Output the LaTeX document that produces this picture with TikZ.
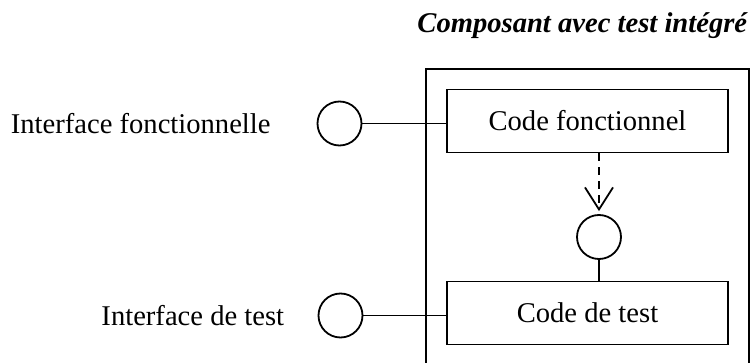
\documentclass[tikz,border=0pt]{standalone}
\usepackage{fontspec}
\setmainfont{Liberation Serif}
\usetikzlibrary{arrows.meta}
\begin{document}
\begin{tikzpicture}[x=0.5pt,y=-0.5pt,line width=0.9pt,
  every node/.style={font=\fontsize{14.3}{17}\selectfont},
  box/.style={draw,rectangle,minimum width=140.5pt,minimum height=31.5pt,inner sep=0pt},
  iface/.style={draw,circle,minimum size=22pt,inner sep=0pt},
  lbl/.style={inner sep=0pt}]
\useasboundingbox (0,0) rectangle (756,363);
\clip (0,0) rectangle (756,363);
\node[lbl,font=\fontsize{14.3}{17}\selectfont\bfseries\itshape,anchor=east] (title) at (748,26) {Composant avec test intégré};
\draw (426,400) -- (426,69) -- (749,69) -- (749,400);
\node[box] (cf) at (587.5,121) {Code fonctionnel};
\node[box] (ct) at (587.5,313) {Code de test};
\node[iface] (i1) at (339.5,123.5) {};
\node[iface] (i2) at (340.5,315.5) {};
\node[iface] (i3) at (599,237) {};
\node[lbl,anchor=west] (l1) at (10,123.5) {Interface fonctionnelle};
\node[lbl,anchor=east] (l2) at (285,315.5) {Interface de test};
\draw (i1) -- (cf.west |- i1);
\draw (i2) -- (ct.west |- i2);
\draw[dash pattern=on 4pt off 3pt,-{Straight Barb[length=11pt,width=14pt]}] (cf.south -| i3) -- ([yshift=1.5pt]i3.north);
\draw (i3) -- (ct.north -| i3);
\end{tikzpicture}
\end{document}
